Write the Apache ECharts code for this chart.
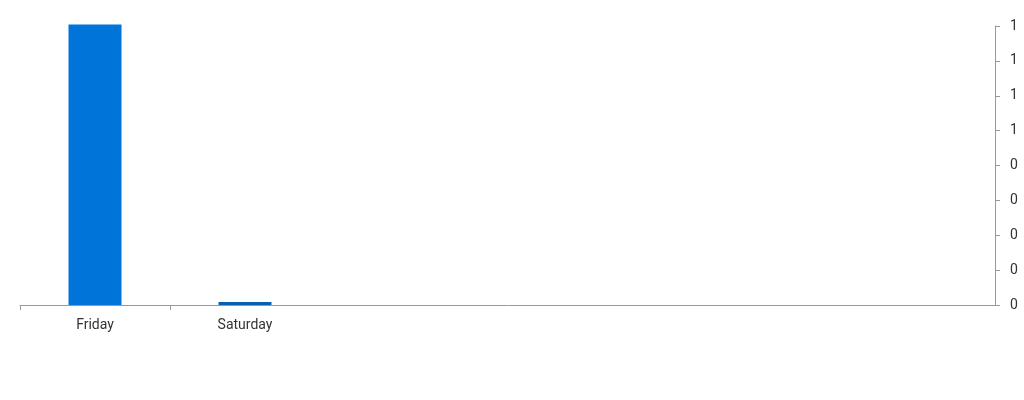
<!DOCTYPE html>
<html>
<head>
<meta charset="utf-8">
<script src="https://cdn.jsdelivr.net/npm/echarts@6/dist/echarts.min.js"></script>
<style>html,body{margin:0;padding:0;background:#fff}#c{width:1024px;height:400px}</style>
</head>
<body>
<div id="c"></div>
<script>
var categories = ['Friday', 'Saturday'];
var values = [1.005, 0.011];
var barColors = ['#0074d9', '#0a60b0'];
var categorySlots = 6.5;

var chart = echarts.init(document.getElementById('c'));
var labelPos = categories.map(function (c, i) { return i + 0.5; });
var tickPos = categories.map(function (c, i) { return i; });
chart.setOption({
  animation: false,
  textStyle: { fontFamily: 'Roboto' },
  grid: { left: 20, right: 29, top: 26, bottom: 95, containLabel: false },
  xAxis: {
    type: 'value', min: 0, max: categorySlots,
    splitLine: { show: false },
    axisLine: { show: true, onZero: false, lineStyle: { color: '#999' } },
    axisTick: { show: true, customValues: tickPos, length: 5, lineStyle: { color: '#999' } },
    axisLabel: {
      customValues: labelPos, color: '#333', fontSize: 14, margin: 13,
      formatter: function (v) { return categories[Math.round(v - 0.5)] || ''; }
    }
  },
  yAxis: {
    type: 'value', position: 'right', min: 0, max: 1, interval: 0.125,
    splitLine: { show: false },
    axisLine: { show: true, onZero: false, lineStyle: { color: '#999' } },
    axisTick: { show: true, length: 5, lineStyle: { color: '#999' } },
    axisLabel: { color: '#333', fontSize: 14, margin: 15, formatter: function (v) { return String(Math.round(v - 1e-9)); } }
  },
  series: [{
    type: 'bar',
    barWidth: 53,
    clip: false,
    data: values.map(function (v, i) { return { value: [i + 0.5, v], itemStyle: { color: barColors[i] } }; })
  }]
});
</script>
</body>
</html>
